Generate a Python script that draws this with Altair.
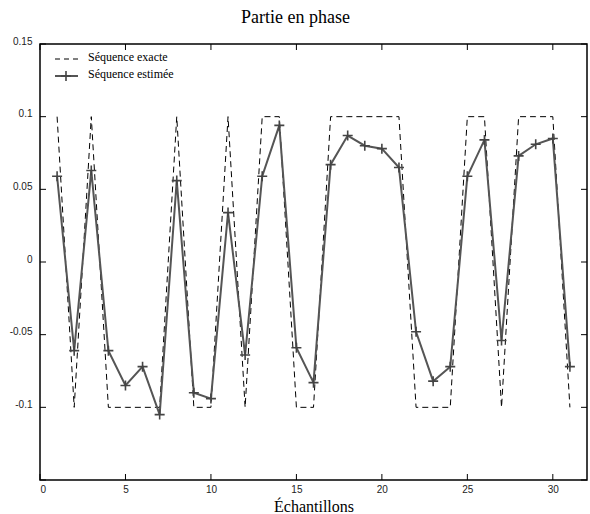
import altair as alt
import pandas as pd

# ---- data ----
n = list(range(1, 32))
exact = [0.1, -0.1, 0.1, -0.1, -0.1, -0.1, -0.1, 0.1, -0.1, -0.1, 0.1, -0.1, 0.1, 0.1,
         -0.1, -0.1, 0.1, 0.1, 0.1, 0.1, 0.1, -0.1, -0.1, -0.1, 0.1, 0.1, -0.1, 0.1,
         0.1, 0.1, -0.1]
estimated = [0.059, -0.061, 0.063, -0.061, -0.085, -0.072, -0.105, 0.056, -0.090,
             -0.094, 0.034, -0.064, 0.059, 0.094, -0.059, -0.083, 0.067, 0.087, 0.080,
             0.078, 0.065, -0.048, -0.082, -0.072, 0.059, 0.084, -0.054, 0.073, 0.081,
             0.085, -0.072]
x_ticks = [0, 5, 10, 15, 20, 25, 30]
y_ticks = [-0.15, -0.1, -0.05, 0, 0.05, 0.1, 0.15]
y_label_values = [-0.1, -0.05, 0, 0.05, 0.1, 0.15]
legend_labels = ["Séquence exacte", "Séquence estimée"]

W, H = 547, 436
df = pd.DataFrame({"n": n, "exact": exact, "estimated": estimated})

xs = alt.Scale(domain=[0, 32], nice=False, zero=False)
ys = alt.Scale(domain=[-0.15, 0.15], nice=False, zero=False)

x_axis = alt.Axis(values=x_ticks, ticks=False, domain=False, grid=False,
                  labelFont="Liberation Sans", labelFontSize=10, labelColor="#222",
                  labelPadding=4, title="Échantillons", titleFont="Liberation Serif",
                  titleFontSize=16, titleFontWeight="normal", titleColor="black",
                  titlePadding=4)
y_axis = alt.Axis(values=y_label_values, labelExpr="toString(datum.value)", ticks=False,
                  domain=False, grid=False, labelFont="Liberation Sans", labelFontSize=10,
                  labelColor="#222", labelPadding=8, labelOffset=-3, title=None)

base = alt.Chart(df)
exact_line = base.mark_line(color="black", strokeWidth=1, strokeDash=[6, 4]).encode(
    x=alt.X("n:Q", scale=xs, axis=x_axis),
    y=alt.Y("exact:Q", scale=ys, axis=y_axis),
)
est_line = base.mark_line(color="#555555", strokeWidth=2).encode(
    x=alt.X("n:Q", scale=xs, axis=x_axis),
    y=alt.Y("estimated:Q", scale=ys, axis=y_axis),
)
plus = "M-1,0L1,0M0,-1L0,1"
est_pts = base.mark_point(shape=plus, size=100, filled=False, color="#444444",
                          strokeWidth=1.6, opacity=1).encode(
    x=alt.X("n:Q", scale=xs, axis=x_axis),
    y=alt.Y("estimated:Q", scale=ys, axis=y_axis),
)

# inward ticks on all four sides
xt = alt.Chart(pd.DataFrame({"t": x_ticks}))
yt = alt.Chart(pd.DataFrame({"t": y_ticks}))
tick_style = dict(color="black", strokeWidth=1)
bottom_ticks = xt.mark_rule(**tick_style).encode(
    x=alt.X("t:Q", scale=xs, axis=x_axis), y=alt.value(H), y2=alt.value(H - 6))
top_ticks = xt.mark_rule(**tick_style).encode(
    x=alt.X("t:Q", scale=xs, axis=x_axis), y=alt.value(0), y2=alt.value(6))
left_ticks = yt.mark_rule(**tick_style).encode(
    y=alt.Y("t:Q", scale=ys, axis=y_axis), x=alt.value(0), x2=alt.value(6))
right_ticks = yt.mark_rule(**tick_style).encode(
    y=alt.Y("t:Q", scale=ys, axis=y_axis), x=alt.value(W - 6), x2=alt.value(W))

# legend (inside, top-left)
one = alt.Data(values=[{}])
leg_dash = alt.Chart(one).mark_rule(color="black", strokeWidth=1, strokeDash=[5, 4]).encode(
    x=alt.value(15), x2=alt.value(38), y=alt.value(15))
leg_solid = alt.Chart(one).mark_rule(color="#555555", strokeWidth=2).encode(
    x=alt.value(15), x2=alt.value(38), y=alt.value(32))
leg_plus = alt.Chart(one).mark_point(shape=plus, size=100, filled=False, color="#444444",
                                     strokeWidth=1.6, opacity=1).encode(
    x=alt.value(26), y=alt.value(32))
leg_t1 = alt.Chart(one).mark_text(align="left", baseline="middle", font="Liberation Serif",
                                  fontSize=12, color="black").encode(
    x=alt.value(48), y=alt.value(13), text=alt.value(legend_labels[0]))
leg_t2 = alt.Chart(one).mark_text(align="left", baseline="middle", font="Liberation Serif",
                                  fontSize=12, color="black").encode(
    x=alt.value(48), y=alt.value(30), text=alt.value(legend_labels[1]))

chart = alt.layer(
    exact_line, est_line, est_pts,
    bottom_ticks, top_ticks, left_ticks, right_ticks,
    leg_dash, leg_solid, leg_plus, leg_t1, leg_t2,
).properties(
    width=W, height=H,
    title=alt.Title("Partie en phase", font="Liberation Serif", fontSize=18,
                    fontWeight="normal", color="black", anchor="middle", dx=-18,
                    dy=21, baseline="alphabetic", offset=16),
    autosize=alt.AutoSizeParams(type="none"),
    padding={"left": 40, "top": 44, "right": 3, "bottom": 34},
    background="white",
).configure_view(stroke="black", strokeWidth=1.5)

chart.save("out.html", embed_options={"renderer": "svg", "actions": False})
